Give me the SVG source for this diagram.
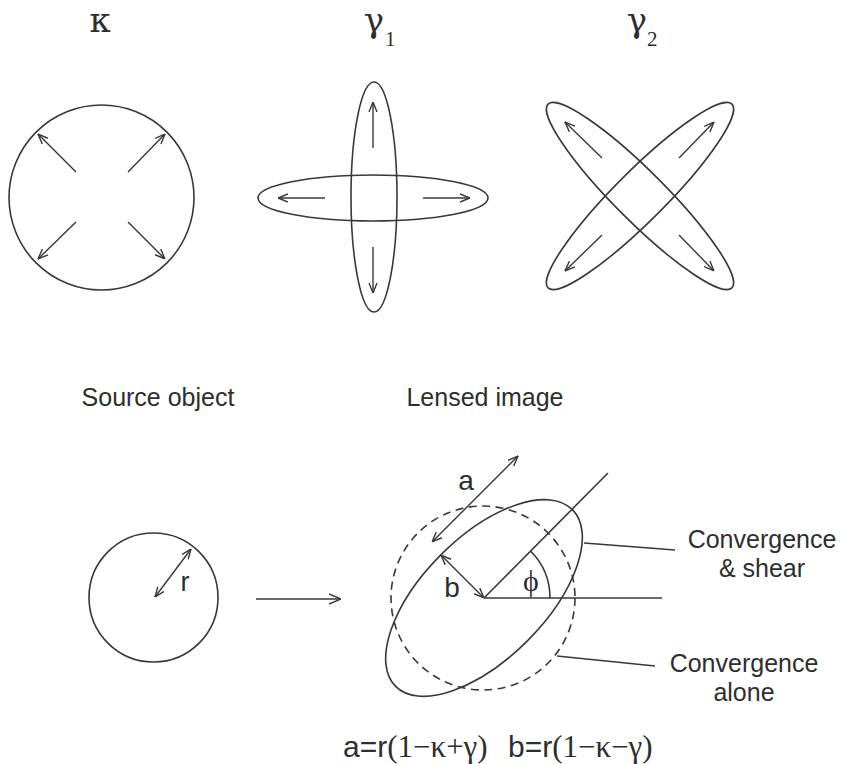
<svg xmlns="http://www.w3.org/2000/svg" width="841" height="764" viewBox="0 0 841 764">
<defs>
<style>
.s{fill:none;stroke:#383838;stroke-width:1.6}
.d{fill:none;stroke:#383838;stroke-width:1.6;stroke-dasharray:8 5.5}
.a{fill:none;stroke:#383838;stroke-width:1.4;marker-end:url(#ah)}
.aa{fill:none;stroke:#383838;stroke-width:1.4;marker-start:url(#ah);marker-end:url(#ah)}
.sans{font-family:"Liberation Sans",Arial,sans-serif;fill:#2e2e2e}
.serif{font-family:"Liberation Serif","Times New Roman",serif;fill:#2e2e2e}
.greek{font-family:"DejaVu Serif","Liberation Serif",serif;fill:#2e2e2e}
</style>
<marker id="ah" viewBox="0 0 10 10" refX="10" refY="5" markerWidth="10" markerHeight="10" markerUnits="userSpaceOnUse" orient="auto-start-reverse">
<path d="M0,1 L10,5 L0,9" fill="none" stroke="#383838" stroke-width="1.4"/>
</marker>
<marker id="ahb" viewBox="0 0 12 12" refX="12" refY="6" markerWidth="12" markerHeight="12" markerUnits="userSpaceOnUse" orient="auto">
<path d="M0,1 L12,6 L0,11" fill="none" stroke="#383838" stroke-width="1.4"/>
</marker>
</defs>
<rect width="841" height="764" fill="#fff"/>

<g id="kappa">
<text class="greek" x="100" y="32" font-size="34" text-anchor="middle">κ</text>
<circle class="s" cx="101.5" cy="197.5" r="92.5"/>
<line class="a" x1="76" y1="172" x2="38" y2="134"/>
<line class="a" x1="128" y1="172" x2="165" y2="134"/>
<line class="a" x1="76" y1="222" x2="38" y2="259"/>
<line class="a" x1="128" y1="222" x2="165" y2="259"/>
</g>

<g id="gamma1">
<text class="greek" x="374" y="32" font-size="34" text-anchor="middle">γ</text>
<text class="serif" x="385" y="46" font-size="21">1</text>
<ellipse class="s" cx="374" cy="197" rx="23" ry="115"/>
<ellipse class="s" cx="373" cy="198" rx="115" ry="23"/>
<line class="a" x1="373" y1="148" x2="373" y2="102"/>
<line class="a" x1="373" y1="247" x2="373" y2="293"/>
<line class="a" x1="325" y1="198" x2="278" y2="198"/>
<line class="a" x1="423" y1="198" x2="470" y2="198"/>
</g>

<g id="gamma2">
<text class="greek" x="637" y="32" font-size="34" text-anchor="middle">γ</text>
<text class="serif" x="647" y="46" font-size="21">2</text>
<ellipse class="s" cx="640" cy="196" rx="130" ry="25" transform="rotate(45 640 196)"/>
<ellipse class="s" cx="640" cy="196" rx="130" ry="25" transform="rotate(-45 640 196)"/>
<line class="a" x1="602" y1="158" x2="565" y2="122"/>
<line class="a" x1="679" y1="158" x2="714" y2="122"/>
<line class="a" x1="602" y1="235" x2="565" y2="271"/>
<line class="a" x1="679" y1="235" x2="714" y2="271"/>
</g>

<g id="source">
<text class="sans" x="158" y="406" font-size="25" text-anchor="middle">Source object</text>
<circle class="s" cx="153.5" cy="597.5" r="64.5"/>
<line class="aa" x1="155" y1="597" x2="191" y2="549"/>
<text class="sans" x="185" y="591" font-size="27" text-anchor="middle">r</text>
</g>

<g id="lensed">
<text class="sans" x="485" y="406" font-size="25" text-anchor="middle">Lensed image</text>
<circle class="d" cx="483" cy="598" r="92"/>
<ellipse class="s" cx="484" cy="598" rx="125" ry="61" transform="rotate(-45 484 598)"/>
<line class="s" x1="484" y1="598" x2="608" y2="473"/>
<line class="s" x1="484" y1="598" x2="662" y2="598"/>
<path class="s" d="M550,598 A66,66 0 0 0 530.7,551.3"/>
<text class="serif" x="531" y="591" font-size="30" text-anchor="middle">ϕ</text>
<line class="aa" x1="484" y1="598" x2="441" y2="555"/>
<text class="sans" x="452" y="597" font-size="28" text-anchor="middle">b</text>
<line class="aa" x1="432" y1="542" x2="518" y2="456"/>
<text class="sans" x="466" y="490" font-size="28" text-anchor="middle">a</text>
</g>

<g id="label-shear">
<text class="sans" x="762" y="548" font-size="25" text-anchor="middle">Convergence</text>
<text class="sans" x="762" y="577" font-size="25" text-anchor="middle">&amp; shear</text>
</g>

<g id="label-alone">
<text class="sans" x="744" y="672" font-size="25" text-anchor="middle">Convergence</text>
<text class="sans" x="744" y="701" font-size="25" text-anchor="middle">alone</text>
</g>

<g id="formula">
<text class="sans" x="343" y="757" font-size="30">a=r<tspan class="serif" font-size="31">(1−κ+γ)</tspan></text>
<text class="sans" x="508" y="757" font-size="30">b=r<tspan class="serif" font-size="31">(1−κ−γ)</tspan></text>
</g>

<g id="connectors">
<line class="s" x1="256" y1="599" x2="341" y2="599" style="marker-end:url(#ahb)"/>
<line class="s" x1="584" y1="543" x2="675" y2="550"/>
<line class="s" x1="557" y1="656" x2="655" y2="666"/>
</g>
</svg>
